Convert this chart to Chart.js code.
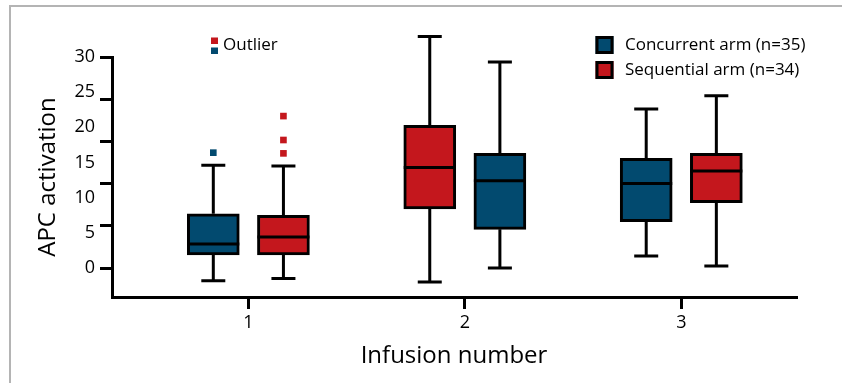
<!DOCTYPE html>
<html>
<head>
<meta charset="utf-8">
<title>APC activation by infusion</title>
<script src="https://cdn.jsdelivr.net/npm/chart.js@4.4.1/dist/chart.umd.min.js"></script>
<style>
  html, body { margin: 0; padding: 0; background: #fff; }
  #wrap { position: relative; width: 846px; height: 383px; overflow: hidden; }
  #frame { position: absolute; left: 9px; top: 5px; width: 831px; height: 400px;
           border-left: 2px solid #b4b4b4; border-top: 2px solid #b4b4b4; }
  #chart { position: absolute; left: 0; top: 0; }
</style>
</head>
<body>
<div id="wrap">
  <div id="frame"></div>
  <canvas id="chart" width="846" height="383"></canvas>
</div>
<script>
const infusions = [1, 2, 3];
const armNames = ['Concurrent arm (n=35)', 'Sequential arm (n=34)'];
const armColors = ['#024a6f', '#c4171d'];

// which side of the tick each concurrent box sits on (sequential is opposite)
const concurrentSide = [-1, 1, -1];

// box plot summaries, one value per infusion
const concurrentMin = [-1.8, 0.0, 1.7];
const concurrentQ1 = [1.85, 5.5, 6.6];
const concurrentMedian = [3.4, 12.4, 12.0];
const concurrentQ3 = [7.7, 16.3, 15.6];
const concurrentMax = [14.6, 29.3, 22.6];
const concurrentOutliers = [[16.4], [], []];

const sequentialMin = [-1.5, -2.0, 0.3];
const sequentialQ1 = [1.85, 8.4, 9.3];
const sequentialMedian = [4.4, 14.3, 13.8];
const sequentialQ3 = [7.5, 20.3, 16.3];
const sequentialMax = [14.5, 32.9, 24.5];
const sequentialOutliers = [[21.6, 18.2, 16.3], [], []];

const yLabelStep = 5;
const yMarkStep = 6;

const FONT = '"Open Sans", sans-serif';
Chart.defaults.font.family = FONT;
Chart.defaults.color = '#000';

const boxOffset = 0.162;
const arms = [
    { min: concurrentMin, q1: concurrentQ1, med: concurrentMedian, q3: concurrentQ3, max: concurrentMax,
      out: concurrentOutliers, side: concurrentSide },
    { min: sequentialMin, q1: sequentialQ1, med: sequentialMedian, q3: sequentialQ3, max: sequentialMax,
      out: sequentialOutliers, side: concurrentSide.map(s => -s) }
];

const boxDatasets = arms.map((arm, k) => ({
    type: 'bar',
    label: armNames[k],
    data: infusions.map((inf, i) => ({ x: inf + arm.side[i] * boxOffset, y: [arm.q1[i], arm.q3[i]] })),
    backgroundColor: armColors[k],
    borderColor: '#000',
    borderWidth: 3,
    borderSkipped: false,
    barThickness: 52,
    grouped: false,
    yAxisID: 'y'
}));

const outlierDatasets = arms.map((arm, k) => {
    const pts = [];
    infusions.forEach((inf, i) => {
        arm.out[i].forEach(v => pts.push({ x: inf + arm.side[i] * boxOffset, y: v }));
    });
    return {
        type: 'scatter',
        label: armNames[k] + ' outliers',
        data: pts,
        pointStyle: 'rect',
        pointRadius: 4.7,
        pointHoverRadius: 4.7,
        backgroundColor: armColors[k],
        borderWidth: 0,
        yAxisID: 'y'
    };
});

// whiskers, caps and medians on top of the floating bars
const whiskerPlugin = {
    id: 'whiskers',
    afterDatasetsDraw(chart) {
        const ctx = chart.ctx;
        const y = chart.scales.y;
        const cap = 12;
        ctx.save();
        ctx.strokeStyle = '#000';
        ctx.lineWidth = 3;
        arms.forEach((arm, d) => {
            chart.getDatasetMeta(d).data.forEach((bar, i) => {
                const half = bar.width / 2;
                const yMax = y.getPixelForValue(arm.max[i]);
                const yMin = y.getPixelForValue(arm.min[i]);
                const yMed = y.getPixelForValue(arm.med[i]);
                ctx.beginPath();
                ctx.moveTo(bar.x, y.getPixelForValue(arm.q3[i]));
                ctx.lineTo(bar.x, yMax);
                ctx.moveTo(bar.x - cap, yMax);
                ctx.lineTo(bar.x + cap, yMax);
                ctx.moveTo(bar.x, y.getPixelForValue(arm.q1[i]));
                ctx.lineTo(bar.x, yMin);
                ctx.moveTo(bar.x - cap, yMin);
                ctx.lineTo(bar.x + cap, yMin);
                ctx.moveTo(bar.x - half, yMed);
                ctx.lineTo(bar.x + half, yMed);
                ctx.stroke();
            });
        });
        ctx.restore();
    }
};

// figure keys: outlier marker and the two arms
const keyPlugin = {
    id: 'figureKeys',
    afterDraw(chart) {
        const ctx = chart.ctx;
        ctx.save();
        ctx.font = '17px ' + FONT;
        ctx.textBaseline = 'middle';
        ctx.textAlign = 'left';

        ctx.fillStyle = armColors[1];
        ctx.fillRect(211, 37.5, 7, 6.5);
        ctx.fillStyle = armColors[0];
        ctx.fillRect(211, 47.5, 7, 6.5);
        ctx.fillStyle = '#000';
        ctx.fillText('Outlier', 223, 45);

        armNames.forEach((name, k) => {
            const top = 36 + k * 25;
            ctx.fillStyle = armColors[k];
            ctx.fillRect(595.5, top, 18, 18);
            ctx.lineWidth = 3;
            ctx.strokeStyle = '#000';
            ctx.strokeRect(597, top + 1.5, 15, 15);
            ctx.fillStyle = '#000';
            ctx.fillText(name, 625, top + 9);
        });
        ctx.restore();
    }
};

new Chart(document.getElementById('chart'), {
    type: 'bar',
    data: { datasets: [...boxDatasets, ...outlierDatasets] },
    options: {
        responsive: false,
        animation: false,
        devicePixelRatio: 1,
        layout: { padding: { top: 57, right: 50, bottom: 0, left: 0 } },
        plugins: {
            legend: { display: false },
            tooltip: { enabled: false }
        },
        scales: {
            x: {
                type: 'linear',
                min: 0.37,
                max: 3.53,
                offset: false,
                grid: { drawOnChartArea: false, offset: false, tickLength: 12, color: '#000', lineWidth: 3 },
                border: { display: true, color: '#000', width: 3 },
                ticks: { stepSize: 1, includeBounds: false, padding: 3, maxRotation: 0, font: { size: 18 } },
                title: { display: true, text: 'Infusion number', font: { size: 24 }, padding: { top: 0, bottom: 12 } },
                afterFit(scale) { scale.height = 86; }
            },
            y: {
                type: 'linear',
                position: 'left',
                weight: 1,
                min: -4.12,
                max: 30,
                grid: { display: false, drawTicks: false },
                border: { display: false },
                ticks: { stepSize: yLabelStep, includeBounds: false, padding: 5, font: { size: 18 } },
                title: { display: true, text: 'APC activation', font: { size: 24 }, padding: { top: 34, bottom: 0 } },
                afterFit(scale) { scale.width = 100; }
            },
            yMarks: {
                type: 'linear',
                position: 'left',
                weight: 0,
                min: -4.12,
                max: 30,
                grid: { drawOnChartArea: false, tickLength: 12, color: '#000', lineWidth: 3 },
                border: { display: true, color: '#000', width: 3 },
                ticks: { stepSize: yMarkStep, includeBounds: false, display: false },
                afterFit(scale) { scale.width = 12; }
            }
        }
    },
    plugins: [whiskerPlugin, keyPlugin]
});
</script>
</body>
</html>
